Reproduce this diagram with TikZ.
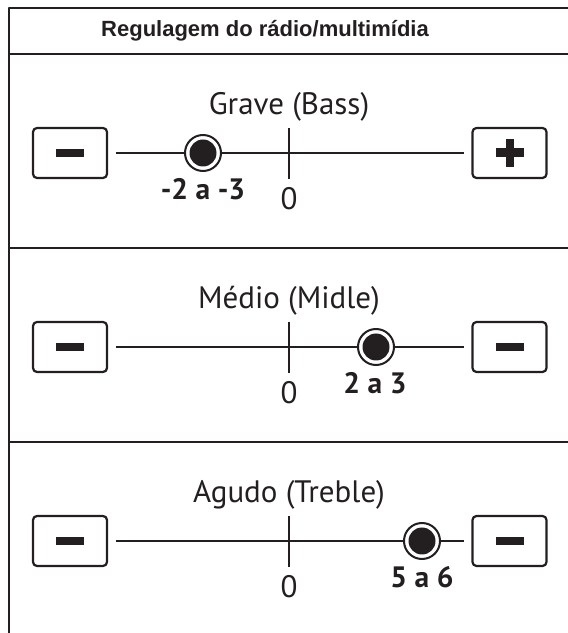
\documentclass[tikz,border=0pt]{standalone}
\usepackage{fontspec}
\setmainfont{PT Sans}
\newfontfamily\titlefont{Liberation Sans}
\usepackage{xcolor}
\definecolor{ink}{RGB}{35,31,32}
\tikzset{
  every picture/.style={line join=round, x=1pt, y=1pt},
  keybox/.style={draw=ink, line width=2.2pt, rounded corners=4pt, minimum width=74pt,
    minimum height=50pt, inner sep=0pt, outer sep=9pt},
  minuskey/.style={keybox, path picture={
    \fill[ink, sharp corners] ([xshift=-14pt,yshift=-4pt]path picture bounding box.center) rectangle ++(28pt,8pt);}},
  pluskey/.style={keybox, path picture={
    \fill[ink, sharp corners] ([xshift=-14pt,yshift=-4.5pt]path picture bounding box.center) rectangle ++(28pt,9pt);
    \fill[ink, sharp corners] ([xshift=-4pt,yshift=-14pt]path picture bounding box.center) rectangle ++(8pt,28pt);}},
  knob/.style={circle, draw=ink, line width=2pt, fill=white, minimum size=36pt, inner sep=0pt,
    path picture={\fill[ink] (path picture bounding box.center) circle (13.5pt);}},
  rail/.style={draw=ink, line width=2pt},
  frame/.style={draw=ink, line width=2.6pt},
  heading/.style={font=\fontsize{31}{36}\selectfont, text=ink, anchor=base},
  value/.style={font=\bfseries\fontsize{29.5}{34}\selectfont, text=ink},
  zero/.style={font=\fontsize{31}{36}\selectfont, text=ink},
}

\begin{document}
\begin{tikzpicture}
\useasboundingbox (0,0) rectangle (568,633);
% frame
\draw[frame] (568,625) -- (9,625) -- (9,-2);
\draw[frame] (9,579) -- (568,579);
\draw[frame] (9,385) -- (568,385);
\draw[frame] (9,191) -- (568,191);
\node[font=\titlefont\bfseries\fontsize{22}{26}\selectfont, text=ink] (T) at (265,602) {Regulagem do rádio/multimídia};
% Grave
\begin{scope}[yshift=480pt]
\node[minuskey] (M1) at (70,0) {};
\node[pluskey] (P1) at (509.5,0) {};
\coordinate (Z1) at (289,0);
\draw[rail] (M1) -- (P1);
\draw[rail] (Z1) ++(0,25) -- ++(0,-51);
\node[knob] (K1) at (203,0) {};
\node[heading] (H1) at (289,38) {Grave (Bass)};
\node[value] (V1) at (203,-36) {-2 a -3};
\node[zero] (N1) at (289,-46) {0};
\end{scope}
% Medio
\begin{scope}[yshift=286pt]
\node[minuskey] (M2) at (70,0) {};
\node[minuskey] (P2) at (509.5,0) {};
\coordinate (Z2) at (289,0);
\draw[rail] (M2) -- (P2);
\draw[rail] (Z2) ++(0,25) -- ++(0,-51);
\node[knob] (K2) at (376,0) {};
\node[heading] (H2) at (289,38) {Médio (Midle)};
\node[value] (V2) at (375,-36) {2 a 3};
\node[zero] (N2) at (289,-46) {0};
\end{scope}
% Agudo
\begin{scope}[yshift=92pt]
\node[minuskey] (M3) at (70,0) {};
\node[minuskey] (P3) at (509.5,0) {};
\coordinate (Z3) at (289,0);
\draw[rail] (M3) -- (P3);
\draw[rail] (Z3) ++(0,25) -- ++(0,-51);
\node[knob] (K3) at (422,0) {};
\node[heading] (H3) at (289,38) {Agudo (Treble)};
\node[value] (V3) at (422,-36) {5 a 6};
\node[zero] (N3) at (289,-46) {0};
\end{scope}
\end{tikzpicture}
\end{document}
